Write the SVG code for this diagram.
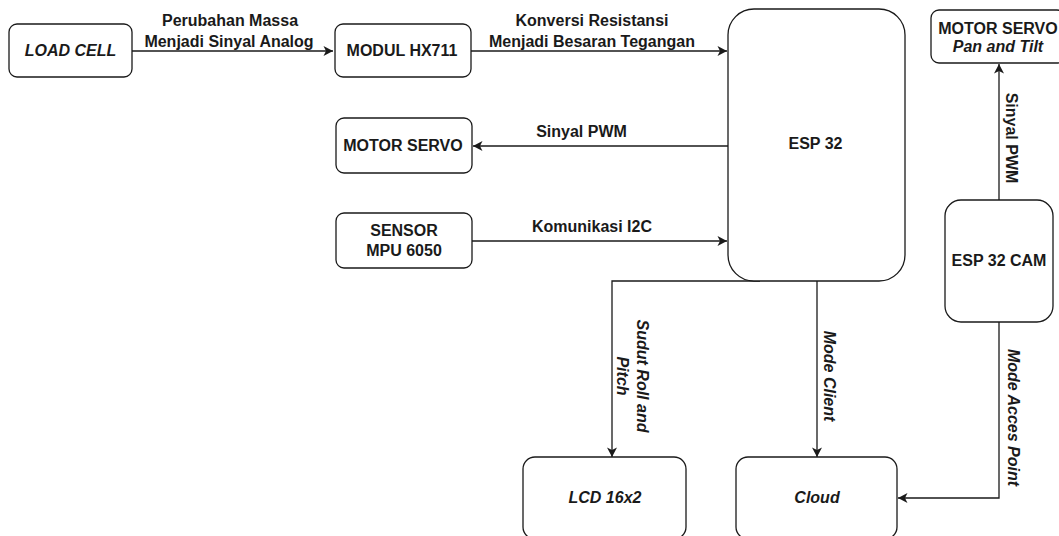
<svg xmlns="http://www.w3.org/2000/svg" width="1059" height="536" viewBox="0 0 1059 536">
<defs>
<style>
.box{fill:#fff;stroke:#1a1a1a;stroke-width:1.3}
.t{font-family:"Liberation Sans",Arial,sans-serif;font-size:16px;font-weight:bold;fill:#1a1a1a;text-anchor:middle}
.i{font-style:italic}
.edge{fill:none;stroke:#1a1a1a;stroke-width:1.3}
</style>
<marker id="arr" markerUnits="userSpaceOnUse" markerWidth="12" markerHeight="12" viewBox="-10 -6 12 12" refX="0" refY="0" orient="auto">
<path d="M0,0 L-9.5,-5 L-7,0 L-9.5,5 Z" fill="#1a1a1a"/>
</marker>
</defs>
<rect width="1059" height="536" fill="#fff"/>
<g id="connectors">
<path class="edge" d="M132,51 H333" marker-end="url(#arr)"/>
<path class="edge" d="M471,51 H727" marker-end="url(#arr)"/>
<path class="edge" d="M728,146 H473" marker-end="url(#arr)"/>
<path class="edge" d="M472,241 H727" marker-end="url(#arr)"/>
<path class="edge" d="M760,281 H612 V457" marker-end="url(#arr)"/>
<path class="edge" d="M817,281 V457" marker-end="url(#arr)"/>
<path class="edge" d="M999,322 V498 H898" marker-end="url(#arr)"/>
<path class="edge" d="M999,200 V64" marker-end="url(#arr)"/>
<text class="t" x="230" y="26">Perubahan Massa</text>
<text class="t" x="229" y="46.5">Menjadi Sinyal Analog</text>
<text class="t" x="592" y="26">Konversi Resistansi</text>
<text class="t" x="592" y="46.5">Menjadi Besaran Tegangan</text>
<text class="t" x="581.5" y="137">Sinyal PWM</text>
<text class="t" x="592" y="231.5">Komunikasi I2C</text>
<text class="t" transform="translate(1006,138) rotate(90)">Sinyal PWM</text>
<text class="t i" transform="translate(637,376) rotate(90)">Sudut Roll and</text>
<text class="t i" transform="translate(617,376) rotate(90)">Pitch</text>
<text class="t i" transform="translate(824,376) rotate(90)">Mode Client</text>
<text class="t i" transform="translate(1008,417.5) rotate(90)">Mode Acces Point</text>
</g>
<g id="load-cell">
<rect class="box" x="9" y="24" width="123" height="53" rx="8"/>
<text class="t i" x="70.5" y="56">LOAD CELL</text>
</g>
<g id="hx711">
<rect class="box" x="335" y="24" width="136" height="53" rx="8"/>
<text class="t" x="402" y="56">MODUL HX711</text>
</g>
<g id="motor-servo">
<rect class="box" x="336" y="118" width="136" height="55" rx="8"/>
<text class="t" x="403" y="151">MOTOR SERVO</text>
</g>
<g id="mpu6050">
<rect class="box" x="336" y="213" width="136" height="55" rx="8"/>
<text class="t" x="404" y="236">SENSOR</text>
<text class="t" x="404" y="256">MPU 6050</text>
</g>
<g id="esp32">
<rect class="box" x="728" y="9" width="177" height="272" rx="26"/>
<text class="t" x="815.5" y="149">ESP 32</text>
</g>
<g id="motor-servo-pt">
<rect class="box" x="931" y="10" width="134" height="53" rx="8"/>
<text class="t" x="998" y="34">MOTOR SERVO</text>
<text class="t i" x="998" y="51.5">Pan and Tilt</text>
</g>
<g id="esp32cam">
<rect class="box" x="945" y="200" width="108" height="122" rx="16"/>
<text class="t" x="999" y="266">ESP 32 CAM</text>
</g>
<g id="lcd">
<rect class="box" x="523" y="457" width="163" height="82" rx="12"/>
<text class="t i" x="605" y="503">LCD 16x2</text>
</g>
<g id="cloud">
<rect class="box" x="736" y="457" width="161" height="82" rx="12"/>
<text class="t i" x="817" y="503">Cloud</text>
</g>
</svg>
